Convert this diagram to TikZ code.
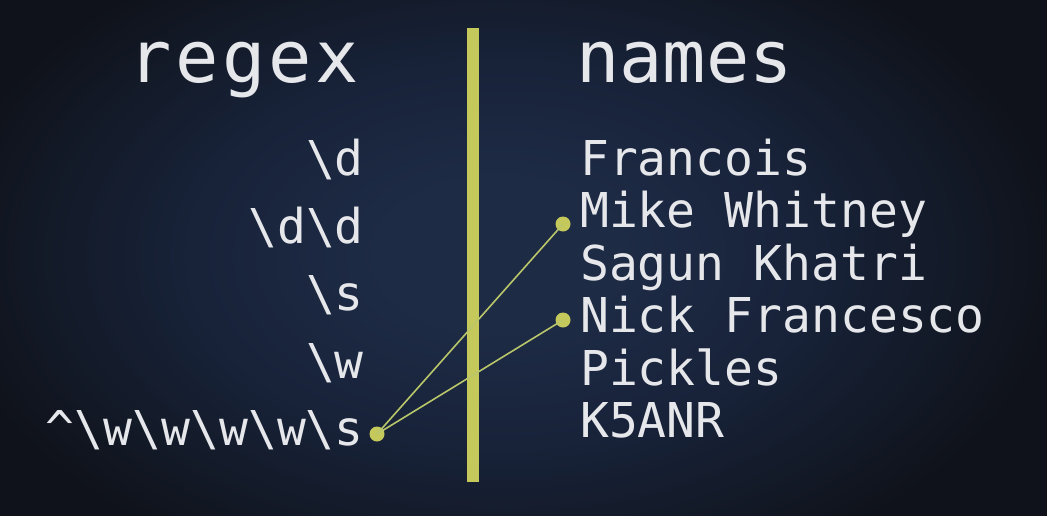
\documentclass[tikz,border=0pt]{standalone}
\usepackage{fontspec}
\setmonofont{DejaVu Sans Mono}
\newfontfamily\headfont[LetterSpace=5]{DejaVu Sans Mono}
\definecolor{bgin}{HTML}{1E2B45}
\definecolor{bgmid}{HTML}{18233A}
\definecolor{bgedge}{HTML}{131A28}
\definecolor{bgout}{HTML}{0F121A}
\definecolor{txt}{HTML}{E6E7EB}
\definecolor{barc}{HTML}{C5C85B}
\definecolor{linkc}{HTML}{B9C66A}
\pgfdeclareradialshading{bgshade}{\pgfpoint{0bp}{0bp}}{color(0bp)=(bgin); color(120bp)=(bgin); color(300bp)=(bgmid); color(450bp)=(bgedge); color(560bp)=(bgout); color(750bp)=(bgout)}
\begin{document}
\begin{tikzpicture}[x=1pt,y=-1pt,
  head/.style={inner sep=0pt, text=txt, font=\headfont\fontsize{72}{72}\selectfont},
  head2/.style={inner sep=0pt, text=txt, font=\ttfamily\fontsize{72}{72}\selectfont},
  item/.style={inner sep=0pt, text=txt, font=\ttfamily\fontsize{48}{48}\selectfont},
  dotn/.style={circle, fill=barc, inner sep=0pt, minimum size=15pt},
  link/.style={draw=linkc, line width=1.6pt}]
\useasboundingbox (0,0) rectangle (1047,515);
\fill[bgout] (0,0) rectangle (1047,515);
\begin{scope}
\clip (0,0) rectangle (1047,515);
\node[inner sep=0pt, yscale=0.62, transform shape] (bg) at (500,255) {\pgfuseshading{bgshade}};
\end{scope}
\fill[barc] (467,28) rectangle (479,482);
% headings
\node[head, anchor=base west] (hregex) at (128,82) {regex};
\node[head2, anchor=base west] (hnames) at (576,82) {names};
% regex column
\node[item, anchor=base east] (r1) at (364,175.5) {\textbackslash d};
\node[item, anchor=base east] (r2) at (364,243) {\textbackslash d\textbackslash d};
\node[item, anchor=base east] (r3) at (364,310.5) {\textbackslash s};
\node[item, anchor=base east] (r4) at (364,378) {\textbackslash w};
\node[item, anchor=base east] (r5) at (364,445.5) {\^{}\textbackslash w\textbackslash w\textbackslash w\textbackslash w\textbackslash s};
% names column
\node[item, anchor=base west] (n1) at (580,175) {Francois};
\node[item, anchor=base west] (n2) at (580,227.5) {Mike Whitney};
\node[item, anchor=base west] (n3) at (580,280) {Sagun Khatri};
\node[item, anchor=base west] (n4) at (580,332.5) {Nick Francesco};
\node[item, anchor=base west] (n5) at (580,385) {Pickles};
\node[item, anchor=base west] (n6) at (580,437.5) {K5ANR};
% dots and links
\node[dotn] (d0) at (377,434) {};
\node[dotn] (d1) at (563,224) {};
\node[dotn] (d2) at (563,320) {};
\draw[link] (d0.center) -- (d1.center);
\draw[link] (d0.center) -- (d2.center);
\end{tikzpicture}
\end{document}
